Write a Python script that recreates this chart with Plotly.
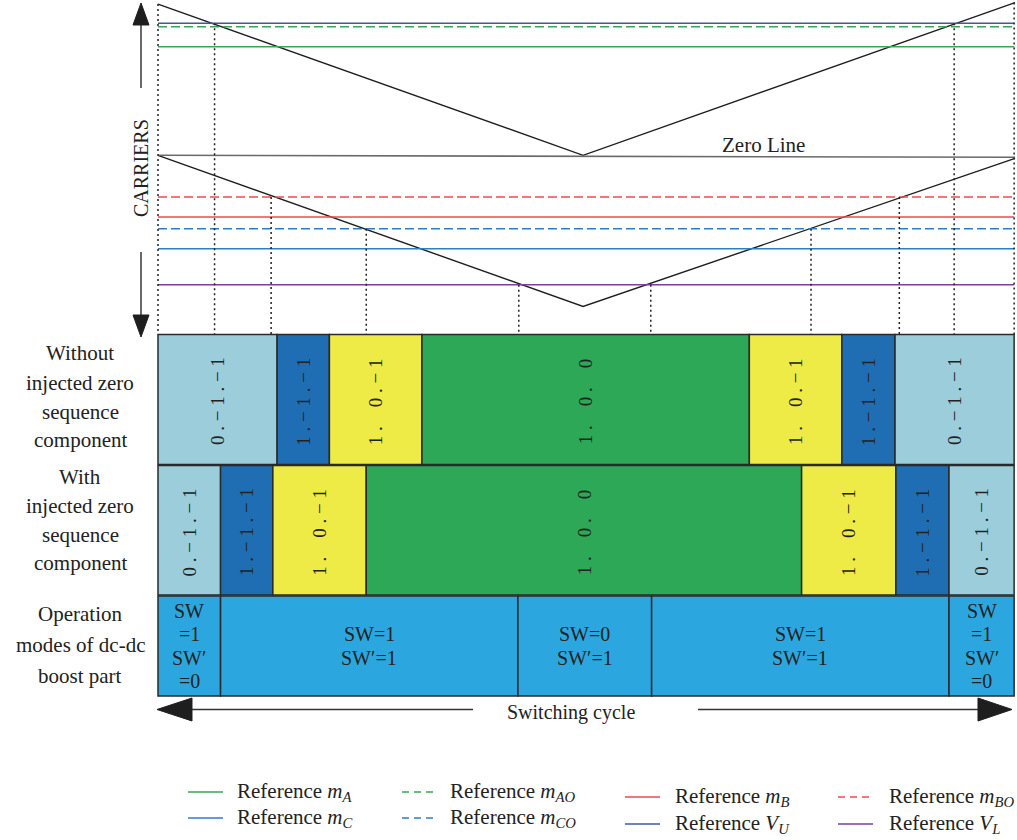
import plotly.graph_objects as go

W, H = 1017, 840
SERIF = "Liberation Serif, DejaVu Serif, serif"

# ---------------- data ----------------
# time axis in percent of one switching cycle
carrier_t = [0.0, 49.6, 100.0]
upper_carrier = [1.0, 0.0, 1.01]
lower_carrier = [0.0, -1.0, -0.02]
zero_t = [0.0, 100.0]
zero_v = [0.0, -0.013]

ref_names = [
    "Reference <i>m</i><sub><i>A</i></sub>",
    "Reference <i>m</i><sub><i>AO</i></sub>",
    "Reference <i>m</i><sub><i>B</i></sub>",
    "Reference <i>m</i><sub><i>BO</i></sub>",
    "Reference <i>m</i><sub><i>C</i></sub>",
    "Reference <i>m</i><sub><i>CO</i></sub>",
    "Reference <i>V</i><sub><i>U</i></sub>",
    "Reference <i>V</i><sub><i>L</i></sub>",
]
ref_levels = [0.718, 0.851, -0.408, -0.276, -0.618, -0.485, 0.873, -0.856]
ref_colors = ["#3aa653", "#3aa653", "#ef4a4c", "#ef4a4c",
              "#2f7dc2", "#2f7dc2", "#4157a6", "#7b3f9c"]
ref_dashed = [False, True, False, True, False, True, False, False]

# carrier / reference crossings that mark the switching instants
cross_t = [0.0, 6.6, 13.2, 24.3, 42.1, 57.5, 76.2, 86.5, 92.9, 99.9]
cross_v = [1.0, 0.873, -0.276, -0.485, -0.856, -0.856, -0.485, -0.276, 0.873, 1.01]

# inverter leg states (A, B, C) over the cycle
without_edges = [0.0, 13.9, 20.0, 30.8, 69.0, 79.8, 86.0, 99.9]
with_edges = [0.0, 7.3, 13.4, 24.3, 75.1, 86.1, 92.3, 99.9]
leg_states = [(0, -1, -1), (1, -1, -1), (1, 0, -1), (1, 0, 0),
              (1, 0, -1), (1, -1, -1), (0, -1, -1)]

# dc-dc boost switch states
boost_edges = [0.0, 7.3, 42.0, 57.6, 92.3, 99.9]
boost_sw = [1, 1, 0, 1, 1]
boost_swp = [0, 1, 1, 1, 0]

row_labels = [
    ["Without", "injected zero", "sequence", "component"],
    ["With", "injected zero", "sequence", "component"],
    ["Operation", "modes of dc-dc", "boost part"],
]

# ---------------- layout geometry (pixels) ----------------
T0_PX, PX_PER_T = 158.0, 8.57      # horizontal scale
V0_PX, PX_PER_V = 155.3, 151.2     # carrier vertical scale
ROWS = [(334.5, 464.5), (465.5, 595.0), (596.0, 696.0)]
LABEL_ROWS_Y = [[353, 383, 412, 440], [477, 506, 535, 563], [614, 645, 676]]
BOOST_PITCH = 23.5
LEG_LINE_X = [188, 402, 625, 838]
LEG_TEXT_X = [235, 448, 673, 887]
LEG_ROW_Y = [[792, 818], [792, 818], [797, 824], [797, 824]]
PLOT_DASH = "9px,4px"
KEY_DASH = "7px,5px"

state_colors = {
    (0, -1, -1): "#9bcddb",
    (1, -1, -1): "#1f6eb4",
    (1, 0, -1): "#eeea46",
    (1, 0, 0): "#2ca856",
}
BOOST_COLOR = "#2ca6de"
EDGE = "#2a2a2a"
TXT = "#222222"


def pxx(x):
    return x / W


def pyy(y):
    return 1 - y / H


def state_text(s):
    parts = []
    for i, v in enumerate(s):
        if i == 0:
            parts.append(str(abs(v)))
        else:
            sign = "\u2212" if v < 0 else "\u2002"
            parts.append(sign + "\u00a0" + str(abs(v)))
    return "\u00a0.\u00a0".join(parts)


def label(x, y, text, size, xref="paper", **kw):
    d = dict(x=x, xref=xref, y=pyy(y), yref="paper", text=text, showarrow=False,
             xanchor="center", yanchor="middle",
             font=dict(family=SERIF, size=size, color=TXT))
    d.update(kw)
    return d


fig = go.Figure()

# carriers and zero line
fig.add_trace(go.Scatter(x=carrier_t, y=upper_carrier, mode="lines",
                         line=dict(color="#1e1e1e", width=1.4),
                         showlegend=False, hoverinfo="skip"))
fig.add_trace(go.Scatter(x=carrier_t, y=lower_carrier, mode="lines",
                         line=dict(color="#1e1e1e", width=1.4),
                         showlegend=False, hoverinfo="skip"))
fig.add_trace(go.Scatter(x=zero_t, y=zero_v, mode="lines",
                         line=dict(color="#6a6a6a", width=1.6),
                         showlegend=False, hoverinfo="skip"))

# reference signals
for name, lvl, col, dashed in zip(ref_names, ref_levels, ref_colors, ref_dashed):
    fig.add_trace(go.Scatter(x=[0.0, 99.9], y=[lvl, lvl], mode="lines", name=name,
                             line=dict(color=col, width=1.5,
                                       dash=PLOT_DASH if dashed else "solid"),
                             showlegend=False, hoverinfo="skip"))

# dotted projections of the crossings down to the state rows
v_bottom = (V0_PX - ROWS[0][0]) / PX_PER_V
dx, dy = [], []
for t, v in zip(cross_t, cross_v):
    dx += [t, t, None]
    dy += [v, v_bottom, None]
fig.add_trace(go.Scatter(x=dx, y=dy, mode="lines",
                         line=dict(color="#222222", width=1.5, dash="2px,3px"),
                         showlegend=False, hoverinfo="skip"))

shapes, annos = [], []

# inverter state rows
for (top, bot), edges in zip(ROWS[:2], [without_edges, with_edges]):
    for i, s in enumerate(leg_states):
        shapes.append(dict(type="rect", xref="x", yref="paper",
                           x0=edges[i], x1=edges[i + 1], y0=pyy(bot), y1=pyy(top),
                           fillcolor=state_colors[s], line=dict(color=EDGE, width=1.5)))
        annos.append(label((edges[i] + edges[i + 1]) / 2, (top + bot) / 2 + 2,
                           state_text(s), 19, xref="x", textangle=-90))

# boost switch row
top, bot = ROWS[2]
mid = (top + bot) / 2
for i in range(len(boost_sw)):
    x0, x1 = boost_edges[i], boost_edges[i + 1]
    shapes.append(dict(type="rect", xref="x", yref="paper",
                       x0=x0, x1=x1, y0=pyy(bot), y1=pyy(top),
                       fillcolor=BOOST_COLOR, line=dict(color=EDGE, width=1.5)))
    if x1 - x0 < 10:
        lines = ["SW", f"={boost_sw[i]}", "SW\u2032", f"={boost_swp[i]}"]
    else:
        lines = [f"SW={boost_sw[i]}", f"SW\u2032={boost_swp[i]}"]
    n = len(lines)
    for k, ln in enumerate(lines):
        y = mid + (k - (n - 1) / 2) * BOOST_PITCH
        annos.append(label((x0 + x1) / 2, y, ln, 20, xref="x"))

# row labels on the left
for lines, ys in zip(row_labels, LABEL_ROWS_Y):
    for ln, y in zip(lines, ys):
        annos.append(label(pxx(80), y, ln, 21))

# carrier axis label and arrows
annos.append(label(pxx(141), 168, "CARRIERS", 20, textangle=-90))
ax = 141
for ya, yb in [(25, 88), (252, 315)]:
    shapes.append(dict(type="line", xref="paper", yref="paper",
                       x0=pxx(ax), x1=pxx(ax), y0=pyy(ya), y1=pyy(yb),
                       line=dict(color="#444444", width=1.6)))


def tri(p1, p2, p3):
    pts = [p1, p2, p3]
    return "M " + " L ".join(f"{pxx(a):.5f},{pyy(b):.5f}" for a, b in pts) + " Z"


for path in [tri((ax, 3), (ax - 8, 25), (ax + 8, 25)),
             tri((ax, 337), (ax - 8, 315), (ax + 8, 315))]:
    shapes.append(dict(type="path", xref="paper", yref="paper", path=path,
                       fillcolor="#1e1e1e", line=dict(color="#1e1e1e", width=1)))

# zero line tag
annos.append(label(pxx(763), 145, "Zero Line", 21))

# switching cycle arrow
ay = 709.5
for xa, xb in [(192, 473), (698, 978)]:
    shapes.append(dict(type="line", xref="paper", yref="paper",
                       x0=pxx(xa), x1=pxx(xb), y0=pyy(ay), y1=pyy(ay),
                       line=dict(color="#333333", width=1.4)))
for path in [tri((157, ay), (192, ay - 11.5), (192, ay + 11.5)),
             tri((1012, ay), (978, ay - 11.5), (978, ay + 11.5))]:
    shapes.append(dict(type="path", xref="paper", yref="paper", path=path,
                       fillcolor="#1e1e1e", line=dict(color="#1e1e1e", width=1)))
annos.append(label(pxx(571), 712, "Switching cycle", 20))

# key for the reference signals, four columns by two rows
for i, (name, col, dashed) in enumerate(zip(ref_names, ref_colors, ref_dashed)):
    c, r = i % 4, i // 4
    y = LEG_ROW_Y[c][r]
    shapes.append(dict(type="line", xref="paper", yref="paper",
                       x0=pxx(LEG_LINE_X[c]), x1=pxx(LEG_LINE_X[c] + 35),
                       y0=pyy(y), y1=pyy(y),
                       line=dict(color=col, width=1.5,
                                 dash=KEY_DASH if dashed else "solid")))
    annos.append(label(pxx(LEG_TEXT_X[c]), y, name, 21, xanchor="left"))

fig.update_layout(
    width=W, height=H,
    margin=dict(l=0, r=0, t=0, b=0),
    paper_bgcolor="white", plot_bgcolor="white",
    xaxis=dict(range=[-T0_PX / PX_PER_T, (W - T0_PX) / PX_PER_T],
               visible=False, fixedrange=True),
    yaxis=dict(range=[-(H - V0_PX) / PX_PER_V, V0_PX / PX_PER_V],
               visible=False, fixedrange=True),
    shapes=shapes,
    annotations=annos,
    showlegend=False,
    hovermode=False,
)

fig.write_html("out.html")
